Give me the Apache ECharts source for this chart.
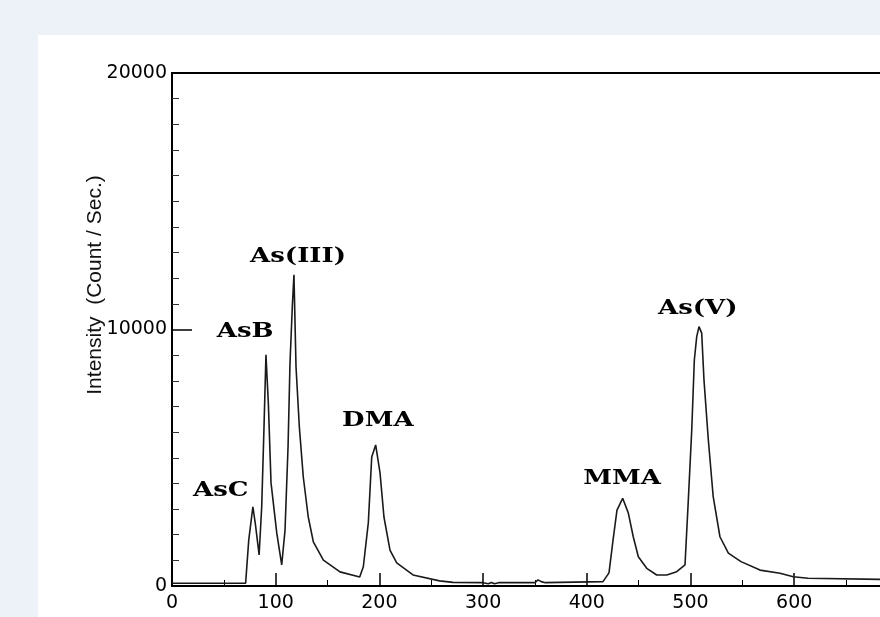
<!DOCTYPE html>
<html>
<head>
<meta charset="utf-8">
<script src="https://cdn.jsdelivr.net/npm/echarts@6/dist/echarts.min.js"></script>
<style>
    html, body { margin: 0; padding: 0; width: 880px; height: 617px; overflow: hidden; background: #edf2f8; }
    #chart { position: absolute; left: 38px; top: 35px; width: 842px; height: 582px; background: #fff; }
</style>
</head>
<body>
<div id="chart"></div>
<script>
// 保留时间 (s) / 强度 (count/sec)
var times = [0, 71, 74, 78, 80.5, 84, 86.5, 88.7, 90.6, 92.9,
    95.5, 101, 105.8, 109, 111.9, 113.8, 116, 117.6, 119.6, 122.8,
    126.6, 131.4, 136.3, 146, 162, 181, 184.5, 189.3, 192.6, 196.4,
    200.6, 204.4, 210.2, 216.7, 232.4, 258, 271, 300, 305, 308,
    311, 315, 350, 353, 356, 360, 415.6, 421.4, 425.3, 429.1,
    434.6, 440, 444.8, 449.7, 457.8, 467.4, 477.1, 486.7, 494.7, 497.9,
    501.2, 503.7, 506, 508.2, 510.8, 513, 517.2, 521.9, 528.4, 536.5,
    548.7, 567, 586.3, 599.1, 613.3, 682.7, 800];
var counts = [110, 110, 1790, 3090, 2380, 1210, 3090, 6160, 9010, 7140,
    4020, 2070, 820, 2180, 5420, 8700, 10880, 12130, 8540, 6200,
    4250, 2690, 1720, 1010, 550, 350, 750, 2460, 5030, 5500,
    4410, 2690, 1400, 900, 430, 200, 140, 130, 90, 140,
    90, 130, 130, 240, 170, 130, 170, 510, 1790, 2960,
    3420, 2850, 1920, 1140, 690, 430, 430, 560, 820, 3350,
    6080, 8810, 9720, 10110, 9860, 8030, 5690, 3480, 1920, 1280,
    950, 620, 500, 360, 300, 260, 260];

// 峰标注
var peakNames = ['AsC', 'AsB', 'As(III)', 'DMA', 'MMA', 'As(V)'];
var peakLabelTimes = [47, 70.5, 121.5, 198.5, 434, 507];
var peakLabelCounts = [3700, 9900, 12830, 6430, 4170, 10820];

var xMin = 0, xMax = 800, xStep = 100;
var yMin = 0, yMax = 20000, yStep = 10000;
var yTitle = 'Intensity  (Count / Sec.)';

var charts = echarts.init(document.getElementById('chart'));
var option = {
    animation: false,
    grid: {
        left: 134,
        top: 38,
        right: -121.6,
        bottom: 31,
        containLabel: false,
        outerBoundsMode: 'none',
        show: true,
        borderColor: '#000',
        borderWidth: 2
    },
    xAxis: {
        type: 'value',
        min: xMin,
        max: xMax,
        interval: xStep,
        axisLine: { lineStyle: { color: '#000', width: 2 } },
        axisTick: { inside: true, length: 13, lineStyle: { color: '#000', width: 1.5 } },
        minorTick: { show: true, splitNumber: 2, length: 6, lineStyle: { color: '#000', width: 1 } },
        splitLine: { show: false },
        axisLabel: {
            color: '#000', fontFamily: 'DejaVu Sans', fontSize: 19, margin: 8,
            formatter: function (v) { return String(v); }
        }
    },
    yAxis: {
        type: 'value',
        min: yMin,
        max: yMax,
        interval: yStep,
        axisLine: { show: true, lineStyle: { color: '#000', width: 2 } },
        axisTick: { show: true, inside: true, length: 20, lineStyle: { color: '#000', width: 1.5 } },
        minorTick: { show: true, splitNumber: 10, length: 7, lineStyle: { color: '#333', width: 1 } },
        splitLine: { show: false },
        axisLabel: {
            color: '#000', fontFamily: 'DejaVu Sans', fontSize: 19, margin: 5,
            formatter: function (v) { return String(v); }
        }
    },
    series: [
        {
            type: 'line',
            showSymbol: false,
            smooth: false,
            lineStyle: { color: '#1a1a1a', width: 1.6 },
            data: times.map(function (t, i) { return [t, counts[i]]; })
        }
    ]
};
charts.setOption(option, true);

// 峰名和纵轴标题
var graphics = peakNames.map(function (name, i) {
    var p = charts.convertToPixel({ gridIndex: 0 }, [peakLabelTimes[i], peakLabelCounts[i]]);
    return {
        type: 'text',
        x: p[0],
        y: p[1],
        scaleX: 1.3,
        style: {
            text: name,
            font: 'bold 20px "DejaVu Serif"',
            fill: '#000',
            align: 'center', textAlign: 'center',
            verticalAlign: 'middle', textVerticalAlign: 'middle'
        }
    };
});
graphics.push({
    type: 'text',
    x: 57,
    y: 250,
    rotation: Math.PI / 2,
    style: {
        text: yTitle,
        font: '21px "Liberation Sans"',
        fill: '#111',
        align: 'center', textAlign: 'center',
        verticalAlign: 'middle', textVerticalAlign: 'middle'
    }
});
charts.setOption({ graphic: graphics });
</script>
</body>
</html>
